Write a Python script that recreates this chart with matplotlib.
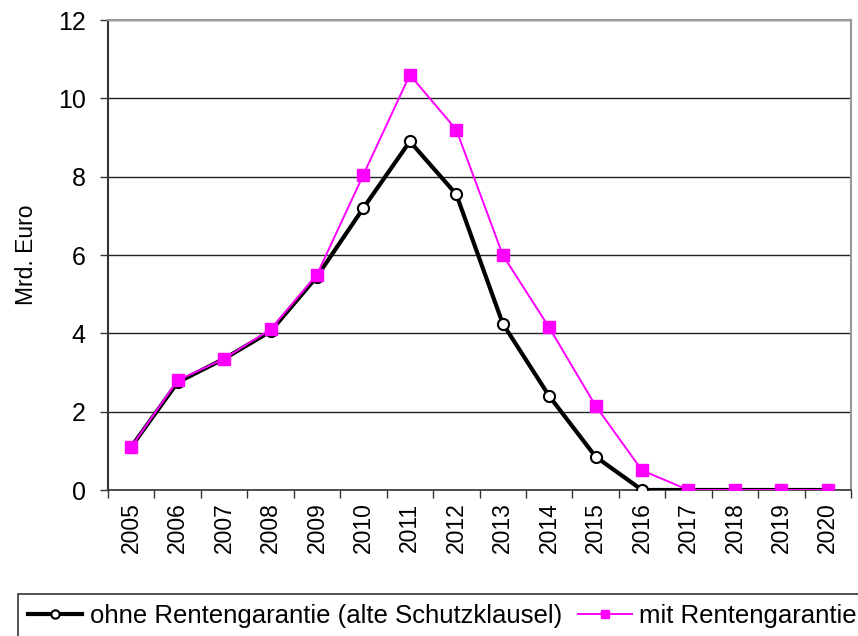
import numpy as np
import matplotlib.pyplot as plt
from matplotlib.ticker import FixedLocator

plt.rcParams['font.family'] = ['Liberation Sans', 'DejaVu Sans']

years = list(range(2005, 2021))
ohne = [1.1, 2.75, 3.35, 4.05, 5.45, 7.2, 8.9, 7.55, 4.25, 2.4, 0.85, 0.0, 0.0, 0.0, 0.0, 0.0]
mit = [1.1, 2.8, 3.35, 4.1, 5.5, 8.05, 10.6, 9.2, 6.0, 4.15, 2.15, 0.5, 0.0, 0.0, 0.0, 0.0]

fig = plt.figure(figsize=(8.58, 6.36), dpi=100)
ax = fig.add_axes([108 / 858, 1 - 490 / 636, (851 - 108) / 858, (490 - 20) / 636])

x = np.arange(len(years))
ax.plot(x, ohne, color='black', lw=3, marker='o', ms=8, mfc='white', mec='black', mew=1.5,
        label='ohne Rentengarantie (alte Schutzklausel)', zorder=3)
ax.plot(x, mit, color='#ff00ff', lw=1.4, marker='s', ms=8.5, mfc='#ff00ff', mec='#ff00ff',
        label='mit Rentengarantie', zorder=4)

ax.set_xlim(-0.5, len(years) - 0.5)
ax.set_ylim(0, 12)
ax.set_yticks([0, 2, 4, 6, 8, 10, 12])
ax.yaxis.grid(True, color='#222222', lw=1)
ax.set_axisbelow(True)

ax.set_xticks(x)
ax.set_xticklabels([str(y) for y in years], rotation=90, fontsize=16.5)
ax.xaxis.set_minor_locator(FixedLocator(np.arange(-0.5, len(years), 1)))
ax.tick_params(axis='x', which='major', length=0, pad=9)
ax.tick_params(axis='x', which='minor', length=6, width=1, color='#333333', direction='out')
ax.tick_params(axis='y', labelsize=18, length=6, width=1, color='#333333', pad=10)

ax.set_ylabel('Mrd. Euro', fontsize=16.5, labelpad=14)

ax.spines['left'].set_color('#333333')
ax.spines['left'].set_linewidth(1.5)
ax.spines['bottom'].set_color('#333333')
ax.spines['bottom'].set_linewidth(1.2)
ax.spines['top'].set_color('#999999')
ax.spines['top'].set_linewidth(1.5)
ax.spines['right'].set_color('#999999')
ax.spines['right'].set_linewidth(1.5)

leg = fig.legend(loc='upper left', bbox_to_anchor=(18 / 858, 1 - 594 / 636),
                 ncol=2, fontsize=18.5, frameon=True, fancybox=False, edgecolor='black',
                 handlelength=2.1, handletextpad=0.3, columnspacing=0.6, borderpad=0.4,
                 borderaxespad=0, markerscale=0.75)
leg.get_frame().set_linewidth(1.2)

fig.savefig('out.png', dpi=100)
